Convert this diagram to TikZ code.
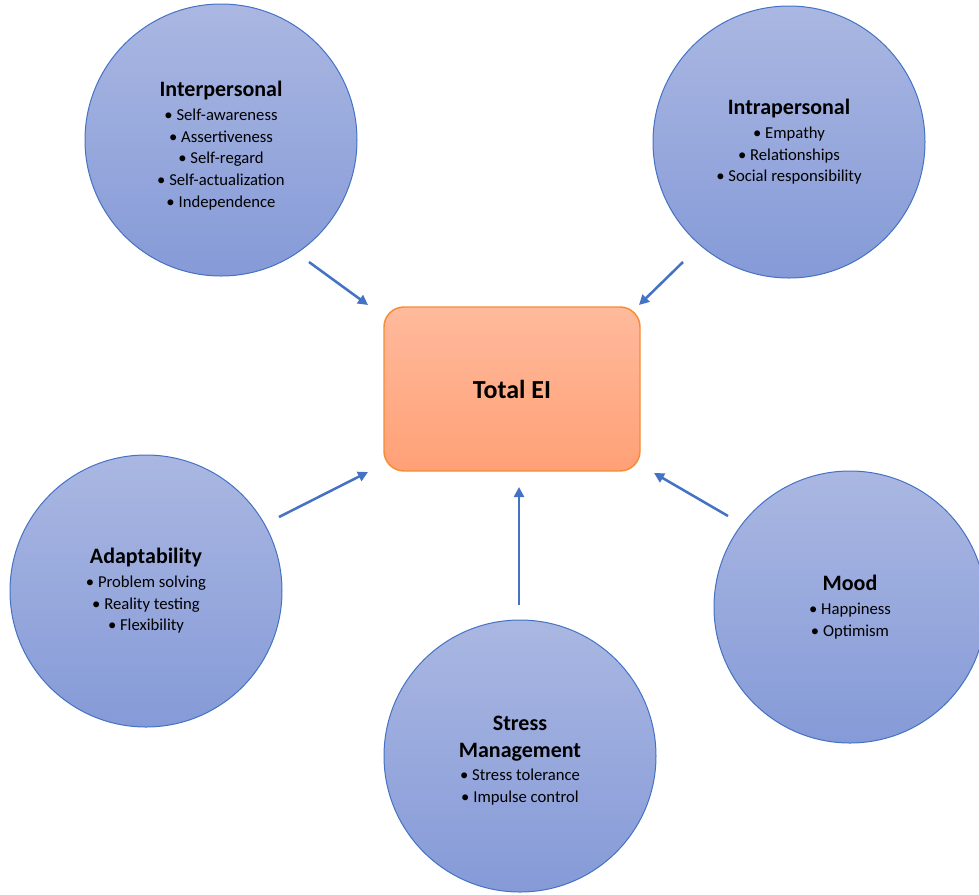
\documentclass[tikz,border=0pt]{standalone}
\usepackage{fontspec}
\setmainfont{Carlito}
\usetikzlibrary{arrows.meta}

\definecolor{skilltop}{RGB}{170,183,226}
\definecolor{skillbot}{RGB}{133,154,215}
\definecolor{skillline}{RGB}{68,114,196}
\definecolor{totaltop}{RGB}{255,186,156}
\definecolor{totalbot}{RGB}{255,160,118}
\definecolor{totalline}{RGB}{247,140,50}

\newcommand{\skillhead}[1]{{\fontsize{16.5}{16.5}\selectfont\bfseries #1}}

\begin{document}
\begin{tikzpicture}[
    x=0.75pt, y=-0.75pt,
    skill/.style={circle, draw=skillline, line width=0.75pt, top color=skilltop, bottom color=skillbot,
        minimum size=204pt, inner sep=0pt, align=center, font=\fontsize{12.5}{16.3}\selectfont},
    total/.style={rectangle, rounded corners=15pt, draw=totalline, line width=1.1pt, top color=totaltop,
        bottom color=totalbot, minimum width=192pt, minimum height=123pt, font=\fontsize{19.5}{22}\selectfont\bfseries},
    arrow/.style={-{Triangle[length=7.5pt,width=7.5pt]}, draw=skillline, line width=1.9pt}
]
\useasboundingbox (0,0) rectangle (979,894);

\node[total] (total) at (512,389) {Total EI};

\node[skill] (inter) at (221,140) {\rule{0pt}{20pt}\skillhead{Interpersonal}\\[1.5pt]
    • Self-awareness\\ • Assertiveness\\ • Self-regard\\ • Self-actualization\\ • Independence};
\node[skill] (intra) at (789,142) {\skillhead{Intrapersonal}\\[1.5pt]
    • Empathy\\ • Relationships\\ • Social responsibility};
\node[skill] (adapt) at (146,591) {\skillhead{Adaptability}\\[1.5pt]
    • Problem solving\\ • Reality testing\\ • Flexibility};
\node[skill] (mood) at (850,607) {\skillhead{Mood}\\[1.5pt]
    • Happiness\\ • Optimism};
\node[skill] (stress) at (520,756) {\rule{0pt}{17.5pt}\skillhead{Stress}\\[4pt]\skillhead{Management}\\[1.5pt]
    • Stress tolerance\\ • Impulse control};

% arrow ends
\coordinate (inter-out) at (309,262);
\coordinate (inter-in) at (368,305);
\coordinate (intra-out) at (683,262);
\coordinate (intra-in) at (639,305);
\coordinate (adapt-out) at (279,517);
\coordinate (adapt-in) at (368,472);
\coordinate (stress-out) at (519,605);
\coordinate (stress-in) at (519,487);
\coordinate (mood-out) at (728,516);
\coordinate (mood-in) at (654,473);

\draw[arrow] (inter-out) -- (inter-in);
\draw[arrow] (intra-out) -- (intra-in);
\draw[arrow] (adapt-out) -- (adapt-in);
\draw[arrow] (stress-out) -- (stress-in);
\draw[arrow] (mood-out) -- (mood-in);

\end{tikzpicture}
\end{document}
